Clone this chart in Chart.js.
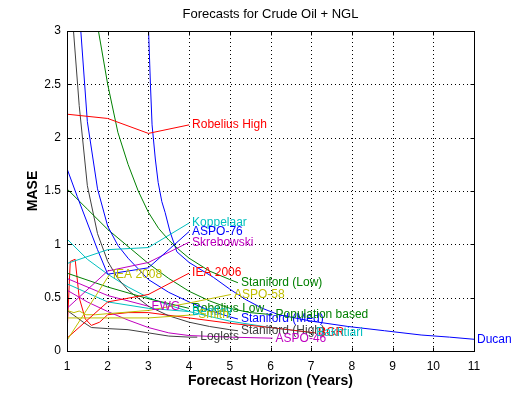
<!DOCTYPE html>
<html>
<head>
<meta charset="utf-8">
<script src="https://cdn.jsdelivr.net/npm/chart.js@4.4.0/dist/chart.umd.min.js"></script>
<style>
  html, body { margin: 0; padding: 0; background: #fff; }
  #wrap { width: 524px; height: 394px; }
</style>
</head>
<body>
<div id="wrap"><canvas id="chart" width="524" height="394"></canvas></div>
<script>
// Tick values
const xTicks = [1, 2, 3, 4, 5, 6, 7, 8, 9, 10, 11];
const yTicks = [0, 0.5, 1, 1.5, 2, 2.5, 3];

// MASE per forecast horizon as [year, MASE]
const robeliusHigh = [[1, 2.22], [2, 2.18], [3, 2.04], [4, 2.12]];
const koppelaar = [[1, 0.82], [2, 0.95], [3, 0.97], [4, 1.2]];
const aspo76 = [[1, 1.71], [1.25, 1.45], [1.5, 1.2], [1.75, 0.95], [2, 0.72], [3, 0.78], [4, 1.12]];
const skrebowski = [[1, 0.4], [2, 0.75], [3, 0.83], [4, 1.02]];
const iea2008 = [[1, 0.1], [2.05, 0.72]];
const iea2006 = [[1, 0.12], [2, 0.46], [3, 0.53], [4, 0.73]];
const stanifordLow = [[1.75, 3.05], [2, 2.5], [2.25, 2.05], [2.5, 1.75], [2.75, 1.5], [3, 1.3], [3.25, 1.15],
    [3.5, 1.04], [3.75, 0.95], [4, 0.87], [4.5, 0.75], [5, 0.67], [5.2, 0.64]];
const aspo58 = [[1, 0.38], [1.17, 0.36], [1.3, 0.375], [1.47, 0.34], [1.7, 0.34], [2, 0.35], [3, 0.38], [4, 0.45], [5.03, 0.53]];
const ewg = [[1, 0.68], [2, 0.52], [3, 0.42]];
const robeliusLow = [[1, 0.73], [2, 0.6], [3, 0.49], [4, 0.4]];
const bentley = [[1, 0.63], [2, 0.46], [3, 0.4], [4, 0.37]];
const smith = [[1, 0.31], [2, 0.31], [3, 0.31], [4.15, 0.34]];
const stanifordMed = [[1.33, 3.05], [1.5, 2.15], [1.75, 1.52], [2, 1.17], [2.25, 0.99], [2.5, 0.87], [3, 0.67],
    [3.5, 0.55], [4, 0.46], [4.5, 0.38], [5, 0.32], [5.2, 0.3]];
const populationBased = [[1, 1.52], [1.5, 1.33], [2, 1.14], [2.5, 0.98], [3, 0.82], [3.5, 0.68], [4, 0.56],
    [4.5, 0.47], [5, 0.4], [5.5, 0.36], [6.05, 0.34]];
const stanifordHigh = [[1.15, 3.05], [1.3, 2.3], [1.5, 1.55], [1.75, 1.1], [2, 0.84], [2.25, 0.68], [2.5, 0.57],
    [3, 0.42], [3.5, 0.33], [4, 0.27], [4.5, 0.23], [5, 0.2], [5.2, 0.19]];
const loglets = [[1, 0.38], [1.15, 0.34], [1.4, 0.27], [1.6, 0.22], [2, 0.21], [2.5, 0.2], [3, 0.17], [3.5, 0.14], [4, 0.13], [4.2, 0.13]];
const aspo46 = [[1, 0.57], [1.5, 0.46], [2, 0.37], [2.5, 0.29], [3, 0.22], [3.5, 0.17], [4, 0.145], [5, 0.13], [6.05, 0.12]];
const bgr = [[1, 0.15], [1.08, 0.84], [1.2, 0.86], [1.3, 0.5], [1.45, 0.3], [1.6, 0.24], [1.8, 0.27], [2, 0.34],
    [2.5, 0.36], [3, 0.36], [4, 0.31], [5, 0.26], [6, 0.22], [7.1, 0.17]];
const bakhtiari = [[1, 1.05], [1.5, 0.86], [2, 0.72], [2.5, 0.6], [3, 0.5], [3.5, 0.43], [4, 0.37], [5, 0.28], [6, 0.22], [7.05, 0.17]];
const ducan = [[3, 3.05], [3.05, 2.5], [3.09, 2.12], [3.17, 1.8], [3.24, 1.58], [3.33, 1.4], [3.41, 1.3], [3.53, 1.12],
    [3.7, 0.93], [4, 0.83], [4.3, 0.76], [4.6, 0.69], [5, 0.58], [5.4, 0.48], [5.8, 0.4], [6.2, 0.34], [7, 0.28],
    [7.9, 0.23], [8.8, 0.19], [9.7, 0.15], [10.4, 0.13], [11, 0.11]];

// MATLAB's old colour order
const BLUE = '#0000ff';
const GREEN = '#008000';
const RED = '#ff0000';
const CYAN = '#00bfbf';
const MAGENTA = '#bf00bf';
const YELLOW = '#bfbf00';
const GRAY = '#404040';

const FONT = "'Liberation Sans', Arial, Helvetica, sans-serif";

const seriesList = [
    ['Robelius High', robeliusHigh, RED],
    ['Koppelaar', koppelaar, CYAN],
    ['ASPO-76', aspo76, BLUE],
    ['Skrebowski', skrebowski, MAGENTA],
    ['IEA 2008', iea2008, YELLOW],
    ['IEA 2006', iea2006, RED],
    ['Staniford (Low)', stanifordLow, GREEN],
    ['ASPO-58', aspo58, YELLOW],
    ['EWG', ewg, MAGENTA],
    ['Robelius Low', robeliusLow, GREEN],
    ['Bentley', bentley, CYAN],
    ['Smith', smith, YELLOW],
    ['Staniford (Med)', stanifordMed, BLUE],
    ['Population based', populationBased, GREEN],
    ['Staniford (High)', stanifordHigh, GRAY],
    ['Loglets', loglets, GRAY],
    ['ASPO-46', aspo46, MAGENTA],
    ['BGR', bgr, RED],
    ['Bakhtiari', bakhtiari, CYAN],
    ['Ducan', ducan, BLUE]
];

// Dotted grid, box with inward ticks, end-of-line labels and titles
const matlabFrame = {
    id: 'matlabFrame',
    beforeDatasetsDraw(chart) {
        const { ctx, chartArea: a, scales: { x, y } } = chart;
        ctx.save();
        ctx.strokeStyle = '#000';
        ctx.lineWidth = 1;
        ctx.setLineDash([1, 3]);
        xTicks.forEach(v => {
            const px = Math.round(x.getPixelForValue(v)) + 0.5;
            if (v === xTicks[0] || v === xTicks[xTicks.length - 1]) return;
            ctx.beginPath();
            ctx.moveTo(px, a.bottom);
            ctx.lineTo(px, a.top);
            ctx.stroke();
        });
        yTicks.forEach(v => {
            const py = Math.round(y.getPixelForValue(v)) + 0.5;
            if (v === yTicks[0] || v === yTicks[yTicks.length - 1]) return;
            ctx.beginPath();
            ctx.moveTo(a.left, py);
            ctx.lineTo(a.right, py);
            ctx.stroke();
        });
        ctx.restore();
    },
    afterDatasetsDraw(chart) {
        const { ctx, chartArea: a, scales: { x, y } } = chart;
        ctx.save();

        // series labels at the last point of each line
        ctx.font = '12px ' + FONT;
        ctx.textBaseline = 'middle';
        ctx.textAlign = 'left';
        chart.data.datasets.forEach((ds, i) => {
            const meta = chart.getDatasetMeta(i);
            const last = meta.data[meta.data.length - 1];
            ctx.fillStyle = ds.borderColor;
            ctx.fillText(ds.label, last.x + 3, last.y);
        });

        // box
        const L = Math.round(a.left) + 0.5, R = Math.round(a.right) + 0.5;
        const T = Math.round(a.top) + 0.5, B = Math.round(a.bottom) + 0.5;
        ctx.strokeStyle = '#000';
        ctx.lineWidth = 1;
        ctx.setLineDash([]);
        ctx.strokeRect(L, T, R - L, B - T);

        // inward tick marks on all four sides
        const tl = 4;
        ctx.beginPath();
        xTicks.forEach(v => {
            const px = Math.round(x.getPixelForValue(v)) + 0.5;
            ctx.moveTo(px, B); ctx.lineTo(px, B - tl);
            ctx.moveTo(px, T); ctx.lineTo(px, T + tl);
        });
        yTicks.forEach(v => {
            const py = Math.round(y.getPixelForValue(v)) + 0.5;
            ctx.moveTo(L, py); ctx.lineTo(L + tl, py);
            ctx.moveTo(R, py); ctx.lineTo(R - tl, py);
        });
        ctx.stroke();

        // titles
        const cx = (a.left + a.right) / 2;
        ctx.fillStyle = '#000';
        ctx.textAlign = 'center';
        ctx.font = '13px ' + FONT;
        ctx.fillText('Forecasts for Crude Oil + NGL', cx, 14);
        ctx.font = 'bold 14px ' + FONT;
        ctx.fillText('Forecast Horizon (Years)', cx, 381);
        ctx.translate(33, (a.top + a.bottom) / 2);
        ctx.rotate(-Math.PI / 2);
        ctx.fillText('MASE', 0, 0);
        ctx.restore();
    }
};

const ctx = document.getElementById('chart');

new Chart(ctx, {
    type: 'scatter',
    data: {
        datasets: seriesList.map(([name, points, color]) => ({
            label: name,
            data: points.map(p => ({ x: p[0], y: p[1] })),
            showLine: true,
            borderColor: color,
            backgroundColor: color,
            borderWidth: 1,
            pointRadius: 0,
            pointHoverRadius: 0,
            tension: 0
        }))
    },
    options: {
        responsive: false,
        animation: false,
        events: [],
        layout: {
            padding: { left: 0, right: 50, top: 31, bottom: 0 }
        },
        plugins: {
            legend: { display: false },
            title: { display: false },
            tooltip: { enabled: false }
        },
        scales: {
            x: {
                type: 'linear',
                min: 1,
                max: 11,
                afterFit: s => { s.height = 43; },
                afterBuildTicks: s => { s.ticks = xTicks.map(v => ({ value: v })); },
                ticks: {
                    color: '#000',
                    padding: 8,
                    maxRotation: 0,
                    autoSkip: false,
                    font: { size: 12, family: FONT },
                    callback: v => String(v)
                },
                grid: { display: false, drawTicks: false, tickLength: 0 },
                border: { display: false }
            },
            y: {
                min: 0,
                max: 3,
                afterFit: s => { s.width = 67; },
                afterBuildTicks: s => { s.ticks = yTicks.map(v => ({ value: v })); },
                ticks: {
                    color: '#000',
                    padding: 6,
                    autoSkip: false,
                    font: { size: 12, family: FONT },
                    callback: v => String(v)
                },
                grid: { display: false, drawTicks: false, tickLength: 0 },
                border: { display: false }
            }
        }
    },
    plugins: [matlabFrame]
});
</script>
</body>
</html>
